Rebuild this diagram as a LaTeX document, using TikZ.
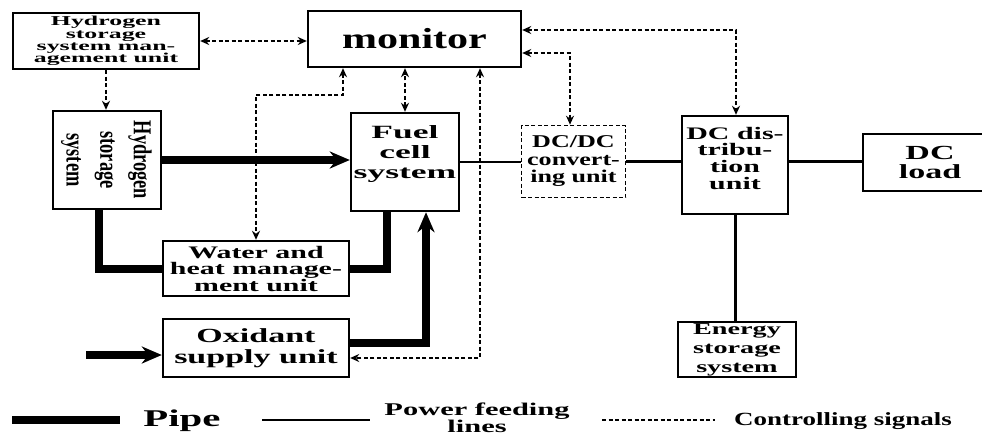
\documentclass[tikz,border=0pt]{standalone}
\usepackage{fontspec}
\setmainfont{Liberation Serif}[FakeStretch=1.7]
\newfontfamily\narrowserif{Liberation Serif}[FakeStretch=1.45]
\newfontfamily\wideserif{Liberation Serif}[FakeStretch=1.9]
\newfontfamily\plainserif{Liberation Serif}
\usepackage{graphicx}
\usepackage{tikz}
\usetikzlibrary{arrows.meta}

\begin{document}
\begin{tikzpicture}[
  x=1pt, y=-1pt,
  box/.style={draw, line width=2.4pt, align=center, inner sep=0pt},
  pipe/.style={line width=8pt},
  pipeto/.style={pipe, -{Stealth[length=20pt,width=17pt]}},
  power/.style={line width=2.2pt},
  signal/.style={line width=1.8pt, dash pattern=on 4pt off 2.5pt},
  sigboth/.style={signal, {Stealth[length=9pt,width=8pt]}-{Stealth[length=9pt,width=8pt]}},
  sigto/.style={signal, -{Stealth[length=9pt,width=8pt]}}
]
\useasboundingbox (0,0) rectangle (982,439);

% units
\node[box, minimum width=186pt, minimum height=56pt, font={\fontsize{13.6}{12.4}\wideserif\bfseries}] (hssm) at (106,41) {Hydrogen\\storage\\system man-\\agement unit};
\node[box, minimum width=213pt, minimum height=56pt, font={\fontsize{29}{30}\narrowserif\bfseries}] (monitor) at (414.5,39) {monitor};
\node[box, minimum width=108pt, minimum height=98pt] (hss) at (107,160) {};
\node[rotate=-90, inner sep=0pt, font={\fontsize{18.4}{24}\plainserif\bfseries}] (hsstext) at (hss) {\scalebox{1}[1.4]{\begin{tabular}{@{}c@{}}Hydrogen\\storage\\system\end{tabular}}};
\node[box, minimum width=108pt, minimum height=98pt, text depth=20pt, font={\fontsize{18.7}{20}\wideserif\bfseries}] (fc) at (405,162) {Fuel\\cell\\system};
\node[box, minimum width=186pt, minimum height=55pt, font={\fontsize{17.6}{16.5}\selectfont\bfseries}] (whm) at (256,268.5) {Water and\\heat manage-\\ment unit};
\node[box, minimum width=186pt, minimum height=58pt, font={\fontsize{20}{21}\selectfont\bfseries}] (ox) at (256,348) {Oxidant\\supply unit};
\node[box, line width=1.6pt, dash pattern=on 4pt off 2.5pt, minimum width=104pt, minimum height=72pt, font={\fontsize{18}{17.5}\narrowserif\bfseries}] (dcdc) at (573.5,161.5) {DC/DC\\convert-\\ing unit};
\node[box, minimum width=106pt, minimum height=98pt, text depth=14pt, font={\fontsize{17.6}{16.7}\selectfont\bfseries}] (dist) at (735,165) {DC dis-\\tribu-\\tion\\unit};
\node[box, minimum width=134pt, minimum height=57pt, font={\fontsize{20}{18.5}\selectfont\bfseries}] (load) at (930,162.5) {DC\\load};
\node[box, minimum width=118pt, minimum height=55pt, font={\fontsize{16.6}{19}\selectfont\bfseries}] (ess) at (737,349.5) {Energy\\storage\\system};

% controlling signals
\draw[sigboth] (hssm.east) -- (hssm.east -| monitor.west);
\draw[sigto] (hssm.south) -- (hssm.south |- hss.north);
\draw[sigboth] (fc.north) -- (fc.north |- monitor.south);
\coordinate (wbend) at (343,95);
\draw[sigboth] (wbend |- monitor.south) -- (wbend) -| (whm.north);
\coordinate (obend) at (480,358);
\draw[sigboth] (obend |- monitor.south) -- (obend) -- (obend -| ox.east);
\coordinate (cbend) at (570,53);
\draw[sigboth] (cbend -| monitor.east) -- (cbend) -- (cbend |- dcdc.north);
\coordinate (dbend) at (736,30);
\draw[sigboth] (dbend -| monitor.east) -- (dbend) -- (dbend |- dist.north);

% pipes
\draw[pipeto] (hss.east) -- (hss.east -| fc.west);
\draw[pipe] ([xshift=-8pt]hss.south) |- (whm.west);
\draw[pipe] (whm.east) -| ([xshift=-18pt]fc.south);
\draw[pipeto] ([yshift=5pt]ox.east) -| ([xshift=21pt]fc.south);
\coordinate (airin) at (86,355);
\draw[pipeto] (airin) -- (airin -| ox.west);

% power feeding lines
\draw[power] (fc.east) -- (fc.east -| dcdc.west);
\draw[power] (dcdc.east) -- (dcdc.east -| dist.west);
\draw[power] (dcdc.east -| dist.east) -- (dcdc.east -| load.west);
\draw[power, line width=3pt] (dist.south) -- (dist.south |- ess.north);

% key
\coordinate (pipeA) at (12,420);
\coordinate (pipeB) at (120,420);
\coordinate (powA) at (262,420);
\coordinate (powB) at (370,420);
\coordinate (sigA) at (602,420);
\coordinate (sigB) at (715,420);
\draw[pipe] (pipeA) -- (pipeB);
\node[font={\fontsize{24}{26}\selectfont\bfseries}] (keypipe) at (182,421) {Pipe};
\draw[power] (powA) -- (powB);
\node[align=center, font={\fontsize{17.9}{16}\selectfont\bfseries}] (keypower) at (477,418) {Power feeding\\lines};
\draw[signal, line width=1.4pt] (sigA) -- (sigB);
\node[font={\fontsize{18.6}{20}\narrowserif\bfseries}] (keysignal) at (843,421) {Controlling signals};
\end{tikzpicture}
\end{document}
